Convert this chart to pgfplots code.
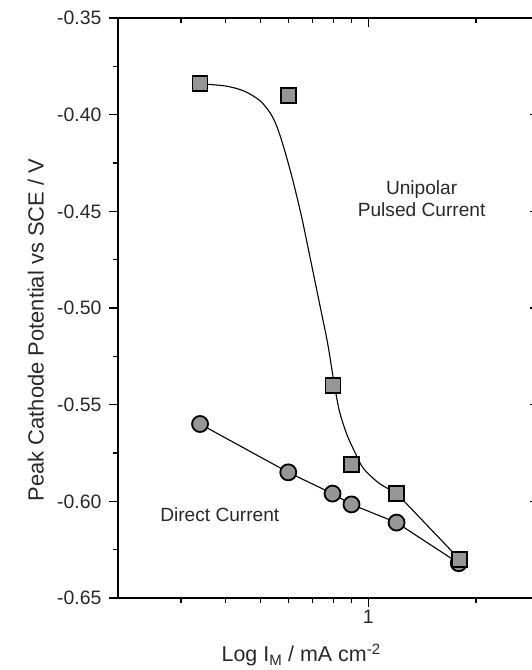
\documentclass[border=0pt]{standalone}
\usepackage{pgfplots}
\pgfplotsset{compat=1.18}
\usepackage{fontspec}
\setmainfont{Liberation Sans}
\definecolor{mk}{RGB}{150,150,150}
\definecolor{tx}{RGB}{40,40,40}
\begin{document}
\begin{tikzpicture}
\begin{axis}[
  scale only axis, width=421bp, height=580bp,
  xmode=log, xmin=0.2, xmax=3, ymin=-0.65, ymax=-0.35,
  axis line style={line width=1.2bp},
  every tick/.append style={line width=1.1bp, black},
  major tick length=9bp, minor tick length=5bp,
  xtick={1}, minor xtick={0.3,0.4,0.5,0.6,0.7,0.8,0.9,2},
  ytick={-0.65,-0.60,-0.55,-0.50,-0.45,-0.40,-0.35},
  minor ytick={-0.625,-0.575,-0.525,-0.475,-0.425,-0.375},
  tick align=outside, xtick pos=left, ytick pos=left,
  xticklabels={1},
  yticklabels={-0.65,-0.60,-0.55,-0.50,-0.45,-0.40,-0.35},
  ticklabel style={font=\fontsize{19.5}{24}\selectfont, text=tx},
  yticklabel style={xshift=-4bp},
  xlabel={Log I\textsubscript{M} / mA cm\textsuperscript{-2}},
  ylabel={Peak Cathode Potential vs SCE / V},
  xlabel style={font=\fontsize{21.5}{24}\selectfont, text=tx, at={(axis description cs:0.435,-0.110)}, anchor=base},
  ylabel style={font=\fontsize{22}{24}\selectfont, text=tx, at={(axis description cs:-0.195,0.462)}, anchor=center},
]
% Unipolar fitted curve
\addplot[black, line width=1.1bp, smooth, tension=0.5] coordinates {
 (0.339,-0.3840) (0.40,-0.3852) (0.45,-0.3878) (0.50,-0.3930) (0.54,-0.4010)
 (0.57,-0.4120) (0.61,-0.4310) (0.65,-0.4520) (0.69,-0.4750) (0.73,-0.4970)
 (0.77,-0.5180) (0.80,-0.5370) (0.83,-0.5530) (0.87,-0.5650) (0.92,-0.5750)
 (0.97,-0.5830) (1.07,-0.5905) (1.198,-0.5957)
};
\addplot[black, line width=1.1bp] coordinates {(1.198,-0.5957) (1.80,-0.630)};
% Direct current
\addplot[black, line width=1.1bp, mark=*, mark size=8bp,
  mark options={fill=mk, draw=black, line width=1.8bp}] coordinates {
 (0.339,-0.560) (0.598,-0.585) (0.795,-0.596) (0.898,-0.6016) (1.20,-0.611) (1.79,-0.632)
};
% Unipolar points
\addplot[only marks, mark=square*, mark size=7.5bp,
  mark options={fill=mk, draw=black, line width=1.8bp}] coordinates {
 (0.339,-0.384) (0.599,-0.390) (0.798,-0.540) (0.898,-0.581) (1.20,-0.596) (1.80,-0.630)
};
\node[font=\fontsize{19.2}{22}\selectfont, text=tx, align=center] at (axis cs:1.41,-0.4436) {Unipolar\\Pulsed Current};
\node[font=\fontsize{19.2}{22}\selectfont, text=tx] at (axis cs:0.385,-0.607) {Direct Current};
\end{axis}
\begin{axis}[
  scale only axis, width=421bp, height=580bp,
  xmode=log, xmin=0.2, xmax=3, ymin=-0.65, ymax=-0.35,
  axis line style={line width=1.2bp},
  every tick/.append style={line width=1.1bp, black},
  major tick length=9bp, minor tick length=5bp,
  xtick={1}, minor xtick={0.3,0.4,0.5,0.6,0.7,0.8,0.9,2},
  ytick={-0.65,-0.60,-0.55,-0.50,-0.45,-0.40,-0.35},
  minor ytick={-0.625,-0.575,-0.525,-0.475,-0.425,-0.375},
  tick align=inside, xtick pos=right, ytick pos=right,
  xticklabels={}, yticklabels={}]
\end{axis}
\pgfresetboundingbox
\useasboundingbox (-118bp,-72bp) rectangle (414bp,598bp);
\end{tikzpicture}
\end{document}
